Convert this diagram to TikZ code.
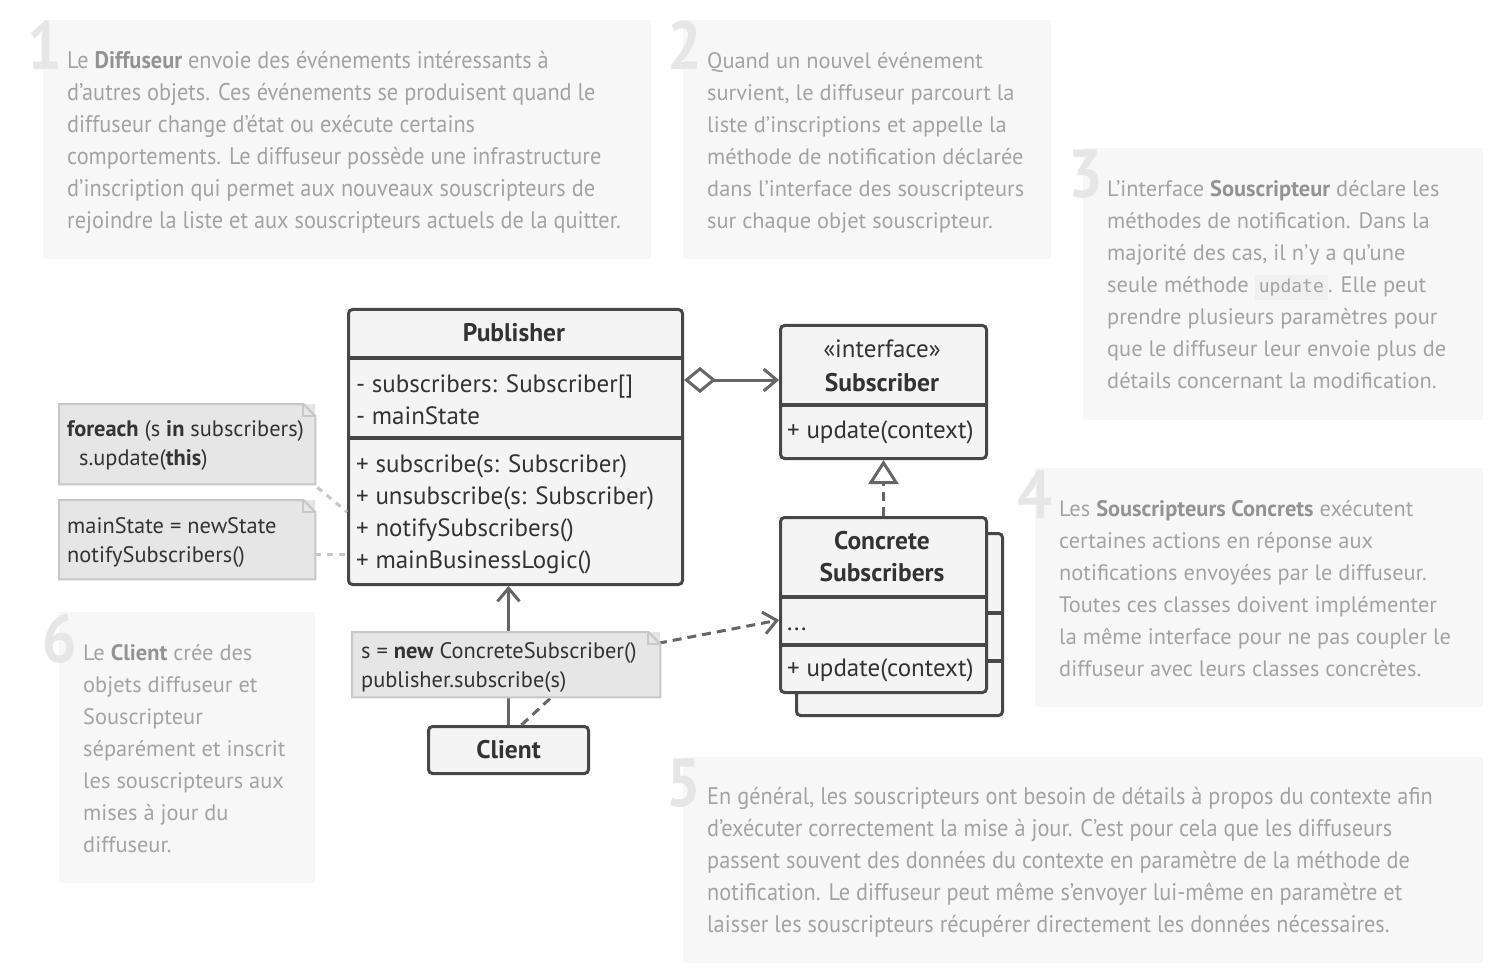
\documentclass[tikz,border=0pt]{standalone}
\usepackage{fontspec}
\setmainfont{PT Sans}
\newfontfamily\numfont[FakeStretch=0.9]{PT Sans}
\newfontfamily\narrowfont[FakeStretch=0.93]{PT Sans}
\newfontfamily\codefont{DejaVu Sans Mono}
\usetikzlibrary{arrows.meta}
\definecolor{annbg}{HTML}{F7F7F7}
\definecolor{anntext}{HTML}{A3A3A3}
\definecolor{annbold}{HTML}{939393}
\definecolor{numcol}{HTML}{E6E6E6}
\definecolor{umlline}{HTML}{474747}
\definecolor{umlfill}{HTML}{F4F4F4}
\definecolor{umltext}{HTML}{333333}
\definecolor{notefill}{HTML}{E6E6E6}
\definecolor{noteline}{HTML}{C8C8C8}
\definecolor{conncol}{HTML}{666666}
\definecolor{codebg}{HTML}{F0F0F0}
\newcommand\st{\rule{0pt}{24pt}}
\newcommand\hb[1]{{\bfseries\color{annbold}#1}}
\newcommand\code[1]{{\setlength\fboxsep{4pt}\colorbox{codebg}{\codefont\fontsize{18}{18}\selectfont\color{anntext}#1}}}
\begin{document}
\begin{tikzpicture}[x=1pt,y=-1pt,
  annbox/.style={fill=annbg},
  num/.style={anchor=base west, inner sep=0, font=\numfont\bfseries\fontsize{68}{68}\selectfont, text=numcol},
  ann/.style={anchor=north west, inner sep=0, align=left, font=\fontsize{22.4}{32}\selectfont, text=anntext},
  annn/.style={ann, font=\narrowfont\fontsize{24}{32}\selectfont},
  umlbox/.style={draw=umlline, line width=3pt, fill=umlfill, rounded corners=4pt, inner sep=0, anchor=north west},
  sepline/.style={draw=umlline, line width=3.5pt},
  members/.style={anchor=north west, inner sep=0, align=left, font=\fontsize{25}{32}\selectfont, text=umltext},
  title/.style={inner sep=0, align=center, font=\bfseries\fontsize{25.5}{32}\selectfont, text=umltext},
  notebox/.style={fill=notefill, inner sep=0, anchor=north west},
  noteborder/.style={draw=noteline, line width=2pt, line join=miter},
  notetext/.style={anchor=north west, inner sep=0, align=left, font=\fontsize{22.4}{29.5}\selectfont, text=umltext},
  conn/.style={draw=conncol, line width=3pt},
  dashconn/.style={conn, dash pattern=on 9pt off 6pt},
  noteconn/.style={draw=noteline, line width=3pt, dash pattern=on 6pt off 6pt},
  vee/.tip={Straight Barb[length=13pt,width=22pt,line width=3pt]}
]
\fill[white] (0,0) rectangle (1493,965);
\useasboundingbox (0,0) rectangle (1493,965);

% ---------- annotation boxes ----------
\fill[annbox] (43,20) rectangle (651,259);
\node[num] (n1) at (27,70) {1};
\node[annn] (a1) at (67,44) {\st Le \hb{Diffuseur} envoie des événements intéressants à\\
d’autres objets. Ces événements se produisent quand le\\
diffuseur change d’état ou exécute certains\\
comportements. Le diffuseur possède une infrastructure\\
d’inscription qui permet aux nouveaux souscripteurs de\\
rejoindre la liste et aux souscripteurs actuels de la quitter.};

\fill[annbox] (683,20) rectangle (1051,259);
\node[num] (n2) at (667,70) {2};
\node[ann] (a2) at (707,44) {\st Quand un nouvel événement\\
survient, le diffuseur parcourt la\\
liste d’inscriptions et appelle la\\
méthode de notification déclarée\\
dans l’interface des souscripteurs\\
sur chaque objet souscripteur.};

\fill[annbox] (1083,148) rectangle (1483,420);
\node[num] (n3) at (1068,198) {3};
\node[ann] (a3) at (1107,172) {\st L’interface \hb{Souscripteur} déclare les\\
méthodes de notification. Dans la\\
majorité des cas, il n’y a qu’une\\
seule méthode \code{update}. Elle peut\\
prendre plusieurs paramètres pour\\
que le diffuseur leur envoie plus de\\
détails concernant la modification.};

\fill[annbox] (1035,468) rectangle (1483,707);
\node[num] (n4) at (1017,518) {4};
\node[ann] (a4) at (1059,492) {\st Les \hb{Souscripteurs Concrets} exécutent\\
certaines actions en réponse aux\\
notifications envoyées par le diffuseur.\\
Toutes ces classes doivent implémenter\\
la même interface pour ne pas coupler le\\
diffuseur avec leurs classes concrètes.};

\fill[annbox] (683,757) rectangle (1483,963);
\node[num] (n5) at (666,806) {5};
\node[annn] (a5) at (707,780) {\st En général, les souscripteurs ont besoin de détails à propos du contexte afin\\
d’exécuter correctement la mise à jour. C’est pour cela que les diffuseurs\\
passent souvent des données du contexte en paramètre de la méthode de\\
notification. Le diffuseur peut même s’envoyer lui-même en paramètre et\\
laisser les souscripteurs récupérer directement les données nécessaires.};

\fill[annbox] (59,612) rectangle (315,883);
\node[num] (n6) at (42,662) {6};
\node[ann] (a6) at (83,636) {\st Le \hb{Client} crée des\\
objets diffuseur et\\
Souscripteur\\
séparément et inscrit\\
les souscripteurs aux\\
mises à jour du\\
diffuseur.};

% ---------- UML classes ----------
\node[umlbox, minimum width=334pt, minimum height=275pt] (pub) at (347,308) {};
\draw[sepline] (347,358) -- (681,358);
\draw[sepline] (347,438) -- (681,438);
\node[title] (pubt) at (514,333) {Publisher};
\node[members] (puba) at (356,368) {\st- subscribers: Subscriber[]\\- mainState};
\node[members] (pubo) at (356,448) {\st+ subscribe(s: Subscriber)\\+ unsubscribe(s: Subscriber)\\+ notifySubscribers()\\+ mainBusinessLogic()};

\node[umlbox, minimum width=206pt, minimum height=133pt] (sub) at (779,324) {};
\draw[sepline] (779,405) -- (985,405);
\node[inner sep=0, anchor=base, font=\fontsize{25}{25}\selectfont, text=umltext] (subs) at (882,357) {«interface»};
\node[title, anchor=base] (subt) at (882,391) {Subscriber};
\node[members] (subo) at (787,414) {\st+ update(context)};

\node[umlbox, minimum width=206pt, minimum height=182pt] (conb) at (795,532) {};
\draw[sepline] (795,613) -- (1001,613);
\draw[sepline] (795,661) -- (1001,661);
\node[umlbox, minimum width=206pt, minimum height=175pt] (con) at (779,516) {};
\draw[sepline] (779,597) -- (985,597);
\draw[sepline] (779,645) -- (985,645);
\node[title, anchor=base] (cont) at (882,581) {Concrete\\Subscribers};
\node[members] (cona) at (787,606) {\st...};
\node[members] (cono) at (787,652) {\st+ update(context)};

\node[umlbox, minimum width=160pt, minimum height=47pt] (cli) at (427,725) {};
\node[title] (clit) at (cli.center) {Client};

% ---------- connectors ----------
\coordinate (aggy) at (0,380);
\draw[conn, {Diamond[open,length=32pt,width=26pt,line width=3pt]}-vee] (pub.east |- aggy) -- (sub.west |- aggy);
\draw[dashconn, -{Triangle[open,length=24pt,width=30pt,line width=3pt]}] (con.north) -- (sub.south);
\draw[conn, -vee] (cli.north) -- (cli.north |- pub.south);
\coordinate (dbend) at (597,655);
\coordinate (dend) at (0,620);
\draw[dashconn, -vee] ([xshift=13pt]cli.north) -- (dbend) -- (con.west |- dend);

% ---------- notes ----------
\node[notebox, minimum width=256pt, minimum height=80pt] (note1) at (59,404) {};
\draw[noteborder] (note1.north west) -- ([xshift=-12pt]note1.north east) -- ([yshift=-12pt]note1.north east) -- (note1.south east) -- (note1.south west) -- cycle;
\draw[noteborder] ([xshift=-12pt]note1.north east) |- ([yshift=-12pt]note1.north east);
\node[notetext] (note1t) at (67,412) {\st\textbf{foreach} (s \textbf{in} subscribers)\\\hspace*{12pt}s.update(\textbf{this})};

\node[notebox, minimum width=256pt, minimum height=79pt] (note2) at (59,500) {};
\draw[noteborder] (note2.north west) -- ([xshift=-12pt]note2.north east) -- ([yshift=-12pt]note2.north east) -- (note2.south east) -- (note2.south west) -- cycle;
\draw[noteborder] ([xshift=-12pt]note2.north east) |- ([yshift=-12pt]note2.north east);
\node[notetext] (note2t) at (67,509) {\st mainState = newState\\notifySubscribers()};

\coordinate (c1) at (0,512);
\coordinate (c2) at (0,554);
\draw[noteconn] ([shift={(2pt,-3pt)}]note1.south east) -- (pub.west |- c1);
\draw[noteconn] (note2.east |- c2) -- (pub.west |- c2);

\node[notebox, minimum width=308pt, minimum height=65pt] (note3) at (352,632) {};
\draw[noteborder] (note3.north west) -- ([xshift=-12pt]note3.north east) -- ([yshift=-12pt]note3.north east) -- (note3.south east) -- (note3.south west) -- cycle;
\draw[noteborder] ([xshift=-12pt]note3.north east) |- ([yshift=-12pt]note3.north east);
\node[notetext] (note3t) at (361,634) {\st s = \textbf{new} ConcreteSubscriber()\\publisher.subscribe(s)};
\end{tikzpicture}
\end{document}
